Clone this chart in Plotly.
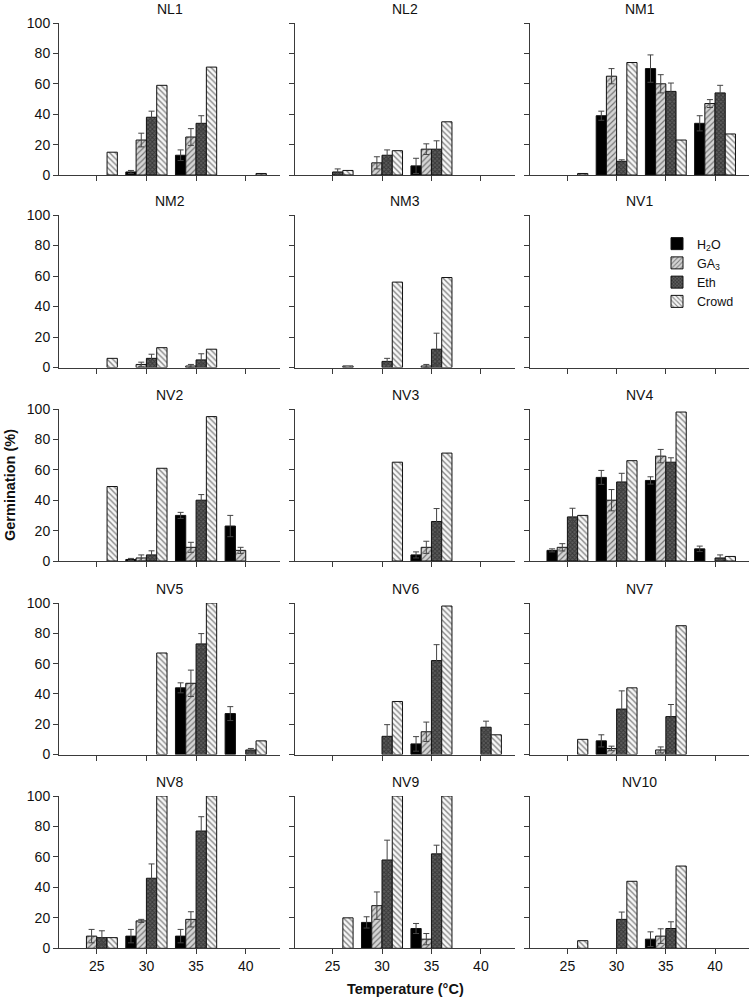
import plotly.graph_objects as go

W, H = 750, 997

temperatures = [25, 30, 35, 40]
treatments = ["H<sub>2</sub>O", "GA<sub>3</sub>", "Eth", "Crowd"]
panel_titles = ["NL1", "NL2", "NM1", "NM2", "NM3", "NV1", "NV2", "NV3",
                "NV4", "NV5", "NV6", "NV7", "NV8", "NV9", "NV10"]
y_ticks = [0, 20, 40, 60, 80, 100]

# Germination (%) — rows: H2O, GA3, Eth, Crowd ; columns: 25, 30, 35, 40 °C
NL1_mean = [[0, 2, 13, 0], [0, 23, 25, 0], [0, 38, 34, 0], [15, 59, 71, 1]]
NL1_se = [[0, 1, 3.5, 0], [0, 4.5, 5.5, 0], [0, 4, 5, 0], [0, 0, 0, 0]]
NL2_mean = [[0, 0, 6, 0], [0, 8, 17, 0], [2, 13, 17, 0], [3, 16, 35, 0]]
NL2_se = [[0, 0, 5, 0], [0, 4, 3.5, 0], [2, 3.5, 5.5, 0], [0, 0, 0, 0]]
NM1_mean = [[0, 39, 70, 34], [0, 65, 60, 47], [0, 9, 55, 54], [1, 74, 23, 27]]
NM1_se = [[0, 3, 9, 5], [0, 5, 6, 2.6], [0, 1, 5.5, 5], [0, 0, 0, 0]]
NM2_mean = [[0, 0, 0, 0], [0, 2, 1, 0], [0, 6, 5, 0], [6, 13, 12, 0]]
NM2_se = [[0, 0, 0, 0], [0, 1.5, 1, 0], [0, 2.7, 4, 0], [0, 0, 0, 0]]
NM3_mean = [[0, 0, 0, 0], [0, 0, 1, 0], [0, 4, 12, 0], [1, 56, 59, 0]]
NM3_se = [[0, 0, 0, 0], [0, 0, 1, 0], [0, 2, 10.5, 0], [0, 0, 0, 0]]
NV1_mean = [[0, 0, 0, 0], [0, 0, 0, 0], [0, 0, 0, 0], [0, 0, 0, 0]]
NV1_se = [[0, 0, 0, 0], [0, 0, 0, 0], [0, 0, 0, 0], [0, 0, 0, 0]]
NV2_mean = [[0, 1, 30, 23], [0, 2, 9, 7], [0, 4, 40, 0], [49, 61, 95, 0]]
NV2_se = [[0, 0.7, 2, 7], [0, 2, 3.3, 2], [0, 2.7, 3.7, 0], [0, 0, 0, 0]]
NV3_mean = [[0, 0, 4, 0], [0, 0, 9, 0], [0, 0, 26, 0], [0, 65, 71, 0]]
NV3_se = [[0, 0, 2, 0], [0, 0, 4, 0], [0, 0, 8.5, 0], [0, 0, 0, 0]]
NV4_mean = [[7, 55, 53, 8], [9, 40, 69, 0], [29, 52, 65, 2], [30, 66, 98, 3]]
NV4_se = [[1, 4.6, 2.4, 1.8], [2.4, 7, 4.4, 0], [5.7, 5.7, 2.9, 2], [0, 0, 0, 0]]
NV5_mean = [[0, 0, 44, 27], [0, 0, 47, 0], [0, 0, 73, 3], [0, 67, 100, 9]]
NV5_se = [[0, 0, 3.3, 4.6], [0, 0, 8.7, 0], [0, 0, 6.8, 1], [0, 0, 0, 0]]
NV6_mean = [[0, 0, 7, 0], [0, 0, 15, 0], [0, 12, 62, 18], [0, 35, 98, 13]]
NV6_se = [[0, 0, 4.8, 0], [0, 0, 6.4, 0], [0, 7.7, 10.5, 4], [0, 0, 0, 0]]
NV7_mean = [[0, 9, 0, 0], [0, 4, 3, 0], [0, 30, 25, 0], [10, 44, 85, 0]]
NV7_se = [[0, 4, 0, 0], [0, 1.5, 2, 0], [0, 12, 8, 0], [0, 0, 0, 0]]
NV8_mean = [[0, 8, 8, 0], [8, 18, 19, 0], [7, 46, 77, 0], [7, 100, 100, 0]]
NV8_se = [[0, 4.4, 4.4, 0], [4.4, 1, 5, 0], [4.5, 9.4, 9.4, 0], [0, 0, 0, 0]]
NV9_mean = [[0, 17, 13, 0], [0, 28, 6, 0], [0, 58, 62, 0], [20, 100, 100, 0]]
NV9_se = [[0, 3.7, 3.3, 0], [0, 9, 3.7, 0], [0, 13, 5.7, 0], [0, 0, 0, 0]]
NV10_mean = [[0, 0, 6, 0], [0, 0, 8, 0], [0, 19, 13, 0], [5, 44, 54, 0]]
NV10_se = [[0, 0, 4.8, 0], [0, 0, 4.8, 0], [0, 4.8, 4.4, 0], [0, 0, 0, 0]]

means = [NL1_mean, NL2_mean, NM1_mean, NM2_mean, NM3_mean, NV1_mean, NV2_mean,
         NV3_mean, NV4_mean, NV5_mean, NV6_mean, NV7_mean, NV8_mean, NV9_mean,
         NV10_mean]
errors = [NL1_se, NL2_se, NM1_se, NM2_se, NM3_se, NV1_se, NV2_se, NV3_se,
          NV4_se, NV5_se, NV6_se, NV7_se, NV8_se, NV9_se, NV10_se]

styles = [
    dict(color="#000000", pattern=dict(shape="")),
    dict(color="#d0d0d0", pattern=dict(shape="/", bgcolor="#d4d4d4", fgcolor="#1a1a1a",
                                       size=4, solidity=0.3)),
    dict(color="#4a4a4a", pattern=dict(shape="x", bgcolor="#5c5c5c", fgcolor="#111111",
                                       size=3, solidity=0.5)),
    dict(color="#f7f7f7", pattern=dict(shape="\\", bgcolor="#f7f7f7", fgcolor="#1a1a1a",
                                       size=4, solidity=0.35)),
]

col_px = [(59, 280), (295, 515), (530, 749)]
row_px = [(23, 175), (215, 367.5), (409, 561), (603, 754.5), (796, 948.3)]

FONT = "Liberation Sans, Arial, sans-serif"
AX = "#3a3a3a"

fig = go.Figure()
layout = {}
annotations = []

for i, title in enumerate(panel_titles):
    r, c = divmod(i, 3)
    xa = "xaxis" if i == 0 else f"xaxis{i+1}"
    ya = "yaxis" if i == 0 else f"yaxis{i+1}"
    xr = "x" if i == 0 else f"x{i+1}"
    yr = "y" if i == 0 else f"y{i+1}"
    x0, x1 = col_px[c]
    t0, b0 = row_px[r]
    layout[xa] = dict(
        domain=[x0 / W, x1 / W], anchor=yr, range=[21.2, 43.45],
        tickvals=temperatures, ticktext=[str(t) for t in temperatures],
        showticklabels=(r == 4), ticks="outside", ticklen=5, tickcolor=AX,
        showline=True, linecolor=AX, linewidth=1, showgrid=False, zeroline=False,
        tickfont=dict(size=14, color="#111"), fixedrange=True, automargin=False,
    )
    layout[ya] = dict(
        domain=[1 - b0 / H, 1 - t0 / H], anchor=xr, range=[0, 100],
        tickvals=y_ticks, showticklabels=(c == 0), ticks="outside", ticklen=5,
        tickcolor=AX, showline=True, linecolor=AX, linewidth=1, showgrid=False,
        zeroline=False, tickfont=dict(size=14, color="#111"), fixedrange=True,
        automargin=False,
    )
    annotations.append(dict(
        text=title, x=(x0 + x1) / 2 / W, y=1 - (t0 - 14) / H, xref="paper",
        yref="paper", xanchor="center", yanchor="middle", showarrow=False,
        font=dict(size=14, color="#111"),
    ))
    for k, name in enumerate(treatments):
        st = styles[k]
        vals = [v if v > 0 else None for v in means[i][k]]
        errs = [e if (e > 0 and v > 0) else None for e, v in zip(errors[i][k], means[i][k])]
        fig.add_trace(go.Bar(
            x=temperatures, y=vals, name=name, xaxis=xr, yaxis=yr,
            legendgroup=name, showlegend=(i == 0),
            marker=dict(color=st["color"], pattern=st["pattern"],
                        line=dict(color="#111111", width=1)),
            error_y=dict(type="data", array=errs, symmetric=True,
                         visible=(k < 3), color="#444444", thickness=1, width=3),
        ))

annotations.append(dict(
    text="<b>Temperature (°C)</b>", x=405 / W, y=1 - 989 / H, xref="paper",
    yref="paper", xanchor="center", yanchor="middle", showarrow=False,
    font=dict(size=14.5, color="#111"),
))
annotations.append(dict(
    text="<b>Germination (%)</b>", x=10 / W, y=1 - 485 / H, xref="paper",
    yref="paper", xanchor="center", yanchor="middle", showarrow=False,
    textangle=-90, font=dict(size=14.5, color="#111"),
))

fig.update_layout(
    **layout,
    annotations=annotations,
    barmode="group", bargap=0.17, bargroupgap=0,
    width=W, height=H, margin=dict(l=0, r=0, t=0, b=0, pad=0, autoexpand=False),
    paper_bgcolor="white", plot_bgcolor="white",
    font=dict(family=FONT, size=13, color="#111"),
    legend=dict(x=657 / W, y=1 - 229 / H, xanchor="left", yanchor="top",
                bgcolor="rgba(0,0,0,0)", font=dict(size=12.5), tracegroupgap=0,
                itemwidth=30, traceorder="normal"),
)

fig.write_html(
    "out.html",
    config={"displayModeBar": False, "staticPlot": True},
    post_script="document.body.style.margin='0';document.body.style.padding='0';",
)
